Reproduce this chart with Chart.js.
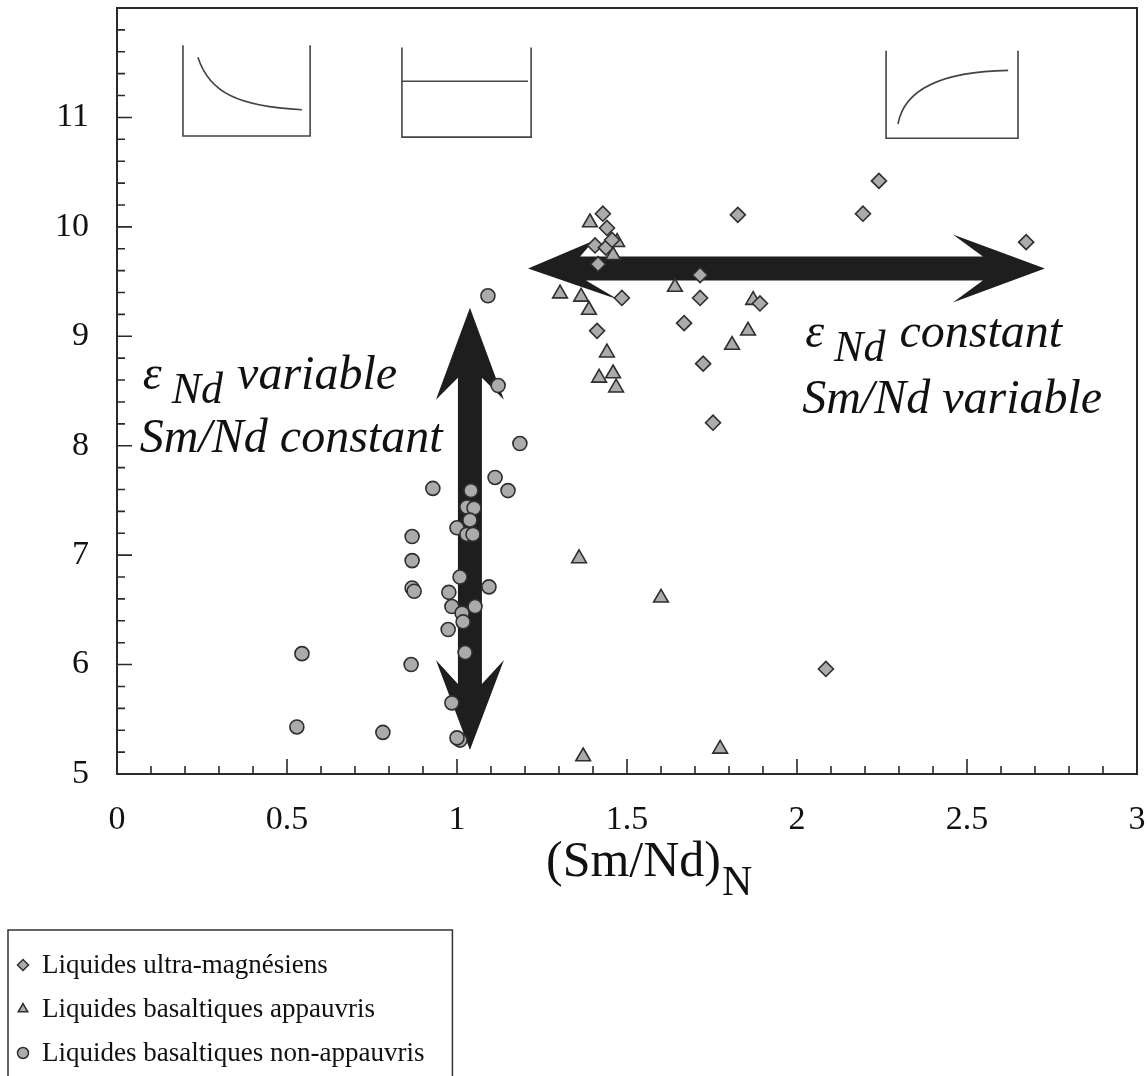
<!DOCTYPE html>
<html><head><meta charset="utf-8">
<script src="https://cdn.jsdelivr.net/npm/chart.js@4.4.1/dist/chart.umd.min.js"></script>
<style>html,body{margin:0;padding:0;background:#fff;}#wrap{width:1147px;height:1076px;}</style>
</head><body><div id="wrap"><canvas id="c" width="1147" height="1076"></canvas></div>
<script>
// ---- data ----
const seriesNames = ['Liquides ultra-magnésiens', 'Liquides basaltiques appauvris', 'Liquides basaltiques non-appauvris'];
const xTickLabels = ['0', '0.5', '1', '1.5', '2', '2.5', '3'];
const yTickLabels = ['5', '6', '7', '8', '9', '10', '11'];
const xAxisTitle = '(Sm/Nd)';
const xAxisTitleSub = 'N';

const ultraX = [1.429, 1.441, 1.406, 1.438, 1.456, 1.415, 1.485, 1.412, 1.715, 1.715, 1.668, 1.724, 1.826, 1.891, 2.241, 2.194, 2.674, 1.753, 2.085];
const ultraY = [10.12, 9.99, 9.83, 9.81, 9.88, 9.66, 9.35, 9.05, 9.56, 9.35, 9.12, 8.75, 10.11, 9.30, 10.42, 10.12, 9.86, 8.21, 5.96];

const appX = [1.391, 1.471, 1.459, 1.303, 1.365, 1.388, 1.641, 1.871, 1.856, 1.809, 1.441, 1.418, 1.459, 1.468, 1.359, 1.600, 1.774, 1.371];
const appY = [10.04, 9.86, 9.74, 9.39, 9.36, 9.24, 9.45, 9.33, 9.05, 8.92, 8.85, 8.62, 8.66, 8.53, 6.97, 6.61, 5.23, 5.16];

const nonX = [0.544, 0.529, 0.782, 1.121, 1.091, 1.185, 0.929, 1.041, 1.112, 1.150, 1.029, 1.050, 1.038, 1.000, 1.029, 1.047, 0.868, 0.868, 0.868, 0.874, 1.009, 1.094, 0.976, 0.985, 1.053, 1.015, 1.018, 0.974, 1.024, 0.865, 0.985, 1.009, 1.000];
const nonY = [6.10, 5.43, 5.38, 8.55, 9.37, 8.02, 7.61, 7.59, 7.71, 7.59, 7.44, 7.43, 7.32, 7.25, 7.19, 7.19, 7.17, 6.95, 6.70, 6.67, 6.80, 6.71, 6.66, 6.53, 6.53, 6.47, 6.39, 6.32, 6.11, 6.00, 5.65, 5.31, 5.33];

// ---- annotations (data units) ----
const hArrow = { x1: 1.209, x2: 2.729, y: 9.62 };
const vArrow = { x: 1.038, y1: 9.26, y2: 5.22 };
const leftText = { x: 0.076, y1: 8.52, y2: 7.94, l1a: 'ε', l1b: 'Nd', l1c: 'variable', l2: 'Sm/Nd constant' };
const rightText = { x: 2.024, y1: 8.90, y2: 8.30, l1a: 'ε', l1b: 'Nd', l1c: 'constant', l2: 'Sm/Nd variable' };

const toPts = (xs, ys) => xs.map((x, i) => ({ x: x, y: ys[i] }));
const mk = { bg: '#ababab', bd: '#2e2e2e' };

const SERIF = '"Liberation Serif", "DejaVu Serif", serif';

function drawArrowPoly(ctx, pts) {
  ctx.beginPath();
  ctx.moveTo(pts[0][0], pts[0][1]);
  for (let i = 1; i < pts.length; i++) ctx.lineTo(pts[i][0], pts[i][1]);
  ctx.closePath();
  ctx.fill();
}

const decor = {
  id: 'decor',
  beforeDatasetsDraw(chart) {
    const ctx = chart.ctx, xs = chart.scales.x, ys = chart.scales.y;
    ctx.save();
    ctx.fillStyle = '#1e1e1e';
    {
      const xl = xs.getPixelForValue(hArrow.x1), xr = xs.getPixelForValue(hArrow.x2), y = ys.getPixelForValue(hArrow.y);
      const s = 12;
      drawArrowPoly(ctx, [
        [xl, y], [xl + 66, y - 28], [xl + 52, y - s], [xr - 62, y - s], [xr - 92, y - 34], [xr, y],
        [xr - 92, y + 34], [xr - 62, y + s], [xl + 58, y + s], [xl + 90, y + 31]
      ]);
    }
    {
      const x = xs.getPixelForValue(vArrow.x), yt = ys.getPixelForValue(vArrow.y1), yb = ys.getPixelForValue(vArrow.y2);
      const s = 12;
      drawArrowPoly(ctx, [
        [x, yt], [x + 34, yt + 92], [x + s, yt + 70], [x + s, yb - 66], [x + 34, yb - 90], [x, yb],
        [x - 34, yb - 90], [x - s, yb - 66], [x - s, yt + 70], [x - 34, yt + 92]
      ]);
    }
    ctx.restore();
  },
  afterDraw(chart) {
    const ctx = chart.ctx, xs = chart.scales.x, ys = chart.scales.y, a = chart.chartArea;
    const X = v => xs.getPixelForValue(v), Y = v => ys.getPixelForValue(v);
    ctx.save();
    ctx.strokeStyle = '#2a2a2a';
    ctx.lineWidth = 2;
    ctx.strokeRect(a.left, a.top, a.right - a.left, a.bottom - a.top);
    ctx.lineWidth = 1.6;
    ctx.beginPath();
    for (let i = 1; i < 30; i++) {
      const v = i / 10, px = X(v), len = (i % 5 === 0) ? 15 : 8;
      ctx.moveTo(px, a.bottom); ctx.lineTo(px, a.bottom - len);
    }
    for (let i = 1; i < 35; i++) {
      const v = 5 + i * 0.2, py = Y(v), len = (i % 5 === 0) ? 15 : 8;
      ctx.moveTo(a.left, py); ctx.lineTo(a.left + len, py);
    }
    ctx.stroke();

    ctx.strokeStyle = '#444';
    ctx.lineWidth = 1.6;
    const box = (x1, x2, yt, yb) => {
      ctx.beginPath();
      ctx.moveTo(X(x1), Y(yt)); ctx.lineTo(X(x1), Y(yb)); ctx.lineTo(X(x2), Y(yb)); ctx.lineTo(X(x2), Y(yt));
      ctx.stroke();
    };
    box(0.194, 0.568, 11.66, 10.83);
    ctx.beginPath();
    ctx.moveTo(X(0.238), Y(11.55));
    ctx.bezierCurveTo(X(0.272), Y(11.22), X(0.36), Y(11.10), X(0.544), Y(11.07));
    ctx.stroke();
    box(0.838, 1.218, 11.64, 10.82);
    ctx.beginPath();
    ctx.moveTo(X(0.838), Y(11.33)); ctx.lineTo(X(1.209), Y(11.33));
    ctx.stroke();
    box(2.262, 2.650, 11.61, 10.81);
    ctx.beginPath();
    ctx.moveTo(X(2.297), Y(10.94));
    ctx.bezierCurveTo(X(2.318), Y(11.30), X(2.45), Y(11.42), X(2.621), Y(11.43));
    ctx.stroke();

    ctx.fillStyle = '#111';
    ctx.textBaseline = 'alphabetic';
    ctx.textAlign = 'left';
    const twoLine = (t) => {
      let x = X(t.x);
      const y1 = Y(t.y1), y2 = Y(t.y2);
      ctx.font = 'italic 48px ' + SERIF;
      ctx.fillText(t.l1a, x, y1);
      x += ctx.measureText(t.l1a).width + 10;
      ctx.font = 'italic 44px ' + SERIF;
      ctx.fillText(t.l1b, x, y1 + 14);
      x += ctx.measureText(t.l1b).width + 14;
      ctx.font = 'italic 48px ' + SERIF;
      ctx.fillText(t.l1c, x, y1);
      ctx.fillText(t.l2, X(t.x) - 3, y2);
    };
    twoLine(leftText);
    twoLine(rightText);

    ctx.font = '50px ' + SERIF;
    const w1 = ctx.measureText(xAxisTitle).width;
    const tx = 546;
    ctx.fillText(xAxisTitle, tx, 876);
    ctx.font = '42px ' + SERIF;
    ctx.fillText(xAxisTitleSub, tx + w1 + 1, 895);

    const ds = chart.data.datasets;
    ctx.font = '27px ' + SERIF;
    let maxW = 0;
    ds.forEach(d => { maxW = Math.max(maxW, ctx.measureText(d.label).width); });
    const lx = 8, ly = 930;
    ctx.strokeStyle = '#333';
    ctx.lineWidth = 1.5;
    ctx.beginPath();
    ctx.moveTo(lx, 1080); ctx.lineTo(lx, ly); ctx.lineTo(lx + 44 + maxW + 18, ly); ctx.lineTo(lx + 44 + maxW + 18, 1080);
    ctx.stroke();
    ds.forEach((d, i) => {
      const yy = 965 + i * 44;
      ctx.fillStyle = d.backgroundColor;
      ctx.strokeStyle = d.borderColor;
      ctx.lineWidth = 1.5;
      if (Chart.helpers && Chart.helpers.drawPoint) {
        Chart.helpers.drawPoint(ctx, { pointStyle: d.pointStyle, radius: 5.5, rotation: 0, borderWidth: 1.5 }, lx + 15, yy);
      }
      ctx.fillStyle = '#111';
      ctx.textBaseline = 'middle';
      ctx.fillText(d.label, lx + 34, yy + 1);
    });
    ctx.restore();
  }
};

const zeroPad = (s) => { s.paddingTop = 0; s.paddingBottom = 0; s.paddingLeft = 0; s.paddingRight = 0; };

new Chart(document.getElementById('c'), {
  type: 'scatter',
  data: {
    datasets: [
      { label: seriesNames[0], data: toPts(ultraX, ultraY), pointStyle: 'rectRot', pointRadius: 7.5, backgroundColor: mk.bg, borderColor: mk.bd, borderWidth: 1.6 },
      { label: seriesNames[1], data: toPts(appX, appY), pointStyle: 'triangle', pointRadius: 8.5, backgroundColor: mk.bg, borderColor: mk.bd, borderWidth: 1.6 },
      { label: seriesNames[2], data: toPts(nonX, nonY), pointStyle: 'circle', pointRadius: 7, backgroundColor: mk.bg, borderColor: mk.bd, borderWidth: 1.6 }
    ]
  },
  options: {
    responsive: false,
    animation: false,
    devicePixelRatio: 1,
    layout: { autoPadding: false, padding: { left: 0, right: 10, top: 8, bottom: 0 } },
    plugins: { legend: { display: false }, tooltip: { enabled: false } },
    scales: {
      x: {
        type: 'linear', min: 0, max: 3,
        grid: { display: false, drawTicks: false },
        border: { display: false },
        ticks: {
          stepSize: 0.5, padding: 26, color: '#111',
          font: { family: SERIF, size: 34 },
          callback: (v) => { const s = String(v); return xTickLabels.includes(s) ? s : ''; }
        },
        afterFit: (s) => { s.height = 302; zeroPad(s); }
      },
      y: {
        type: 'linear', min: 5, max: 12,
        grid: { display: false, drawTicks: false },
        border: { display: false },
        ticks: {
          stepSize: 1, padding: 28, color: '#111',
          font: { family: SERIF, size: 34 },
          callback: (v) => { const s = String(v); return yTickLabels.includes(s) ? s : ''; }
        },
        afterFit: (s) => { s.width = 117; zeroPad(s); }
      }
    }
  },
  plugins: [decor]
});
</script>
</body></html>
